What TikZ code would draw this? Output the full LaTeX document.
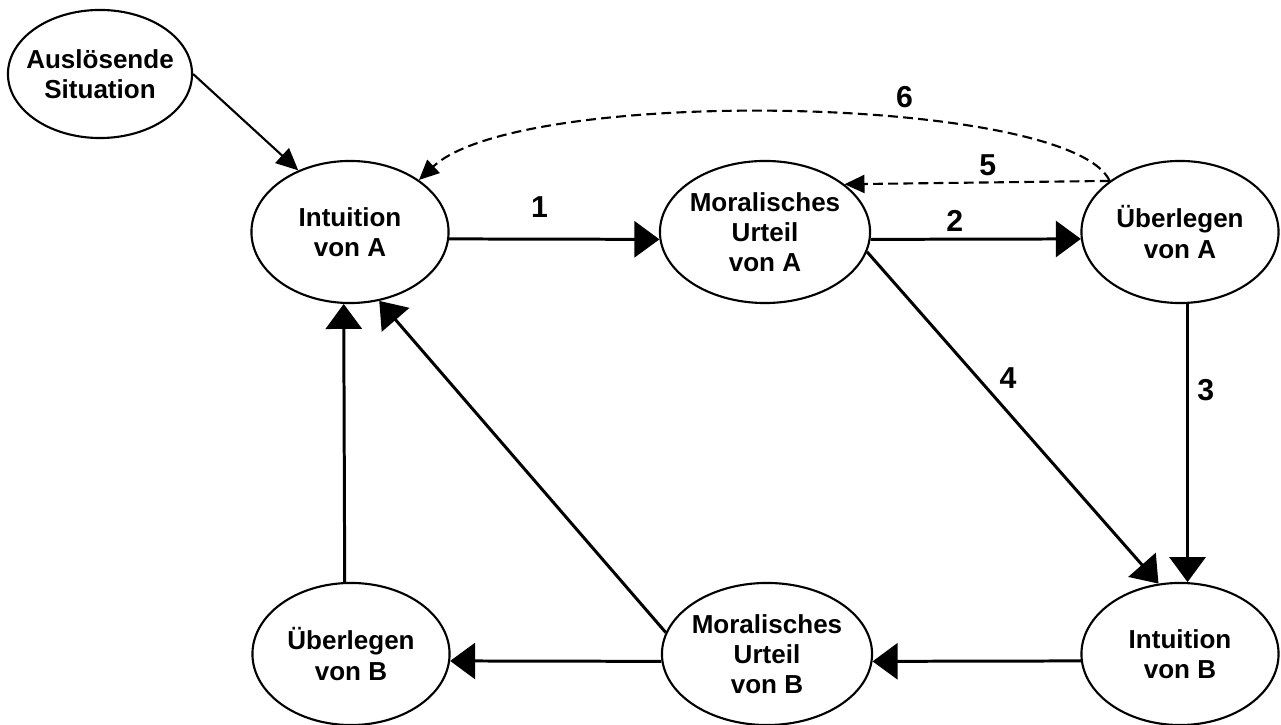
\documentclass[tikz,border=0pt]{standalone}
\usepackage{fontspec}
\setmainfont{Liberation Sans}
\usetikzlibrary{arrows.meta,shapes.geometric}

\begin{document}
\begin{tikzpicture}[x=0.01cm, y=-0.01cm, >={Triangle[length=0.25cm,width=0.36cm]},
		state/.style={ellipse, draw, line width=0.6pt, minimum width=1.97cm, minimum height=1.42cm, inner sep=0pt, align=center, font=\fontsize{7.4}{8.6}\selectfont\bfseries},
		flow/.style={->, line width=0.85pt},
		back/.style={-{Triangle[length=0.2cm,width=0.18cm]}, line width=0.6pt, dash pattern=on 2.8pt off 1.5pt},
		num/.style={font=\fontsize{8.6}{10}\selectfont\bfseries, inner sep=1pt}]
		\useasboundingbox (0,0) rectangle (1281,725);
		
		% nodes
		\node[state, minimum width=1.84cm, minimum height=1.28cm, inner xsep=-3pt] (ausl) at (100,74) {Auslösende\\Situation};
		\node[state] (intA) at (350,232) {Intuition\\von A};
		\node[state, minimum width=2.1cm, inner xsep=-1pt] (morA) at (765,232) {Moralisches\\Urteil\\von A};
		\node[state] (uebA) at (1180,232) {Überlegen\\von A};
		\node[state] (intB) at (1180,654) {Intuition\\von B};
		\node[state, minimum width=2.1cm, inner xsep=-1pt] (morB) at (767,654) {Moralisches\\Urteil\\von B};
		\node[state] (uebB) at (351,654) {Überlegen\\von B};
		
		% arrows
		\draw[-{Triangle[length=0.22cm,width=0.2cm]}, line width=0.6pt] (ausl.east) -- (intA.130);
		\draw[flow] (intA.-4) -- node[num, pos=0.43, above=4.7pt] {1} (morA.184);
		\draw[flow] (morA.-4) -- node[num, pos=0.4, above=0.7pt] {2} (uebA.184);
		\draw[flow] (uebA.-84) -- node[num, pos=0.31, right=1.4pt] {3} (intB.84);
		\draw[flow] (morA.-11) -- node[num, pos=0.38, right=4.8pt] {4} (intB.107);
		\draw[flow] (intB.184) -- (morB.-4);
		\draw[flow] (morB.184) -- (uebB.-4);
		\draw[flow] (uebB.95) -- (intA.-95);
		\draw[flow] (morB.168) -- (intA.-67);
		
		% feedback
		\draw[back] (uebA.144) -- node[num, pos=0.46, above=0.7pt] {5} (morA.31);
		\draw[back] (uebA.144) .. controls (1070,95) and (520,85) .. node[num, pos=0.37, above=1.6pt] {6} (intA.37);
	\end{tikzpicture}
\end{document}
